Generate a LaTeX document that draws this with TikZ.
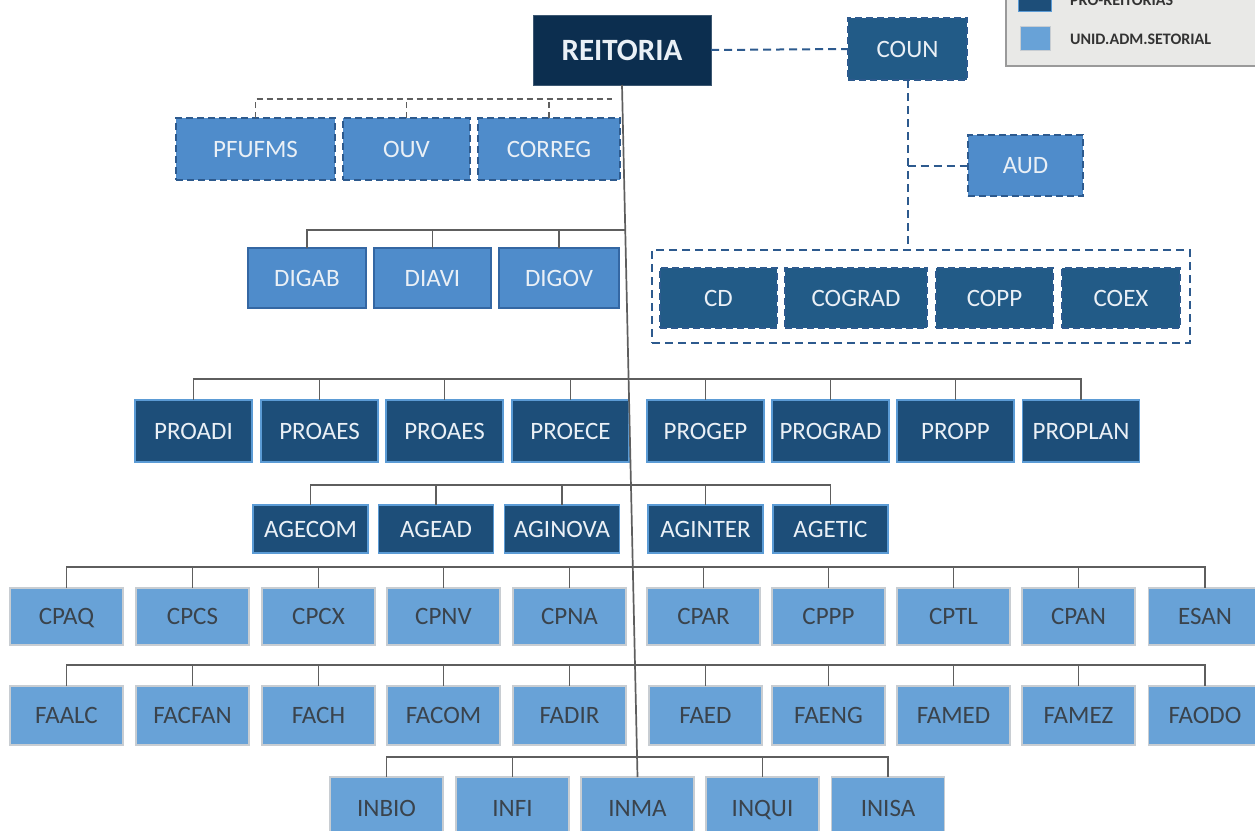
\documentclass[tikz,border=0pt]{standalone}
\usepackage{fontspec}
\setmainfont{Carlito}
\usetikzlibrary{calc}
\definecolor{reitc}{HTML}{0C2E4F}
\definecolor{midc}{HTML}{225B87}
\definecolor{proc}{HTML}{1D4E79}
\definecolor{probord}{HTML}{5B9BD5}
\definecolor{bluetwo}{HTML}{4F8CCB}
\definecolor{dashc}{HTML}{2D5A8E}
\definecolor{digbord}{HTML}{3467A3}
\definecolor{cpc}{HTML}{68A2D7}
\definecolor{cpbord}{HTML}{C8CDD2}
\definecolor{txtlight}{HTML}{EAF0F6}
\definecolor{txtdark}{HTML}{3A434C}
\definecolor{lineg}{HTML}{5E5E5E}
\definecolor{legbg}{HTML}{E9E9E7}
\definecolor{legbord}{HTML}{9A9A9A}
\newcommand\labfont{\fontsize{25}{30}\selectfont}
\tikzset{
  box/.style={rectangle, inner sep=0pt, outer sep=0pt, font=\labfont, text=txtlight, text height=16pt, text depth=0pt},
  reitbox/.style={box, fill=reitc, draw=reitc!80!white, line width=1pt, font=\fontsize{31}{36}\selectfont\bfseries, text height=20pt},
  counbox/.style={box, fill=midc, draw=dashc, line width=2.5pt, dash pattern=on 7pt off 4pt},
  ltdash/.style={box, fill=bluetwo, draw=dashc, line width=2.5pt, dash pattern=on 7pt off 4pt},
  digbox/.style={box, fill=bluetwo, draw=digbord, line width=1.8pt},
  probox/.style={box, fill=proc, draw=probord, line width=1.5pt},
  cpbox/.style={box, fill=cpc, draw=cpbord, line width=1.2pt, text=txtdark, minimum width=113pt},
  conn/.style={draw=lineg, line width=1.7pt},
  gdash/.style={draw=lineg, line width=1.5pt, dash pattern=on 6pt off 4pt},
  bdash/.style={draw=dashc, line width=2pt, dash pattern=on 8pt off 5pt},
  leglab/.style={anchor=west, inner sep=0pt, font=\fontsize{16}{18}\selectfont\bfseries, text=black!80, text height=10.5pt, text depth=0pt},
}
\begin{document}
\begin{tikzpicture}[x=1pt, y=-1pt]
\useasboundingbox (0,0) rectangle (1255,830);
% legend
\node[draw=legbord, fill=legbg, line width=1.5pt, minimum width=270pt, minimum height=96pt, inner sep=0pt, outer sep=0pt] (legend) at (1141,18) {};
\node[fill=proc, draw=probord, line width=1pt, minimum width=33pt, minimum height=24pt, inner sep=0pt] (legdark) at (1035,-1) {};
\node[fill=cpc, draw=cpbord, line width=1pt, minimum width=30pt, minimum height=24pt, inner sep=0pt] (leglight) at (1035,38) {};
\node[leglab] (legt1) at (1070,0) {PRO-REITORIAS};
\node[leglab] (legt2) at (1070,39) {UNID.ADM.SETORIAL};

% top
\node[reitbox, minimum width=178pt, minimum height=70pt] (reit) at (622,50) {REITORIA};
\node[counbox, minimum width=119pt, minimum height=62pt] (coun) at (907.5,49) {COUN};
\node[ltdash, minimum width=115pt, minimum height=61pt] (aud) at (1025.5,165.5) {AUD};
\node[rectangle, draw=dashc, line width=2pt, dash pattern=on 8pt off 5pt, minimum width=538pt, minimum height=93pt, inner sep=0pt, outer sep=0pt] (grp) at (921,296.5) {};
\node[counbox, minimum width=117pt, minimum height=60pt] (cd) at (718.5,298) {CD};
\node[counbox, minimum width=142pt, minimum height=60pt] (cograd) at (856,298) {COGRAD};
\node[counbox, minimum width=117pt, minimum height=60pt] (copp) at (994.5,298) {COPP};
\node[counbox, minimum width=118pt, minimum height=60pt] (coex) at (1121,298) {COEX};

\draw[bdash] (reit.east) -- (coun.west);
\draw[bdash] (coun.south) -- (coun.south |- grp.north);
\draw[bdash] (coun.south |- aud.west) -- (aud.west);

% PFUFMS row
\node[ltdash, minimum width=159pt, minimum height=62pt] (pfu) at (255.5,149) {PFUFMS};
\node[ltdash, minimum width=127pt, minimum height=62pt] (ouv) at (406.5,149) {OUV};
\node[ltdash, minimum width=142pt, minimum height=62pt] (correg) at (549,149) {CORREG};

% DIG row
\node[digbox, minimum width=118pt, minimum height=60pt] (digab) at (307,278) {DIGAB};
\node[digbox, minimum width=117pt, minimum height=60pt] (diavi) at (432.5,278) {DIAVI};
\node[digbox, minimum width=120pt, minimum height=60pt] (digov) at (559,278) {DIGOV};

% PRO row
\foreach \n/\x/\t in {proadi/193.5/PROADI, proaesa/319.5/PROAES, proaesb/444.5/PROAES, proece/570.5/PROECE, progep/705.5/PROGEP, prograd/830.5/PROGRAD, propp/955.5/PROPP, proplan/1081/PROPLAN}
  \node[probox, minimum width=117pt, minimum height=62pt] (\n) at (\x,431) {\t};

% AGE row
\foreach \n/\x/\t in {agecom/310.5/AGECOM, agead/436/AGEAD, aginova/562/AGINOVA, aginter/705.5/AGINTER, agetic/830.5/AGETIC}
  \node[probox, minimum width=115pt, minimum height=48pt] (\n) at (\x,529) {\t};

% CP row
\foreach \n/\x/\t in {cpaq/66.5/CPAQ, cpcs/192.5/CPCS, cpcx/318.5/CPCX, cpnv/443.5/CPNV, cpna/569.5/CPNA, cpar/703.5/CPAR, cppp/828.5/CPPP, cptl/953.5/CPTL, cpan/1078.5/CPAN, esan/1205/ESAN}
  \node[cpbox, minimum height=57pt] (\n) at (\x,616.5) {\t};

% FA row
\foreach \n/\x/\t in {faalc/66.5/FAALC, facfan/192.5/FACFAN, fach/318.5/FACH, facom/443.5/FACOM, fadir/569.5/FADIR, faed/705.5/FAED, faeng/828.5/FAENG, famed/953.5/FAMED, famez/1078.5/FAMEZ, faodo/1205/FAODO}
  \node[cpbox, minimum height=59pt] (\n) at (\x,715.5) {\t};

% IN row
\foreach \n/\x/\t in {inbio/386.5/INBIO, infi/512.5/INFI, inma/637.5/INMA, inqui/762.5/INQUI, inisa/888/INISA}
  \node[cpbox, minimum height=62pt] (\n) at (\x,808) {\t};

% spine
\draw[conn] (reit.south) -- (inma.north);

% PFUFMS dashed connector
\coordinate (py) at (612,99);
\draw[gdash] (pfu.north) |- (py);
\draw[gdash] (ouv.north) -- (ouv.north |- py);
\draw[gdash] (correg.north) -- (correg.north |- py);

% DIG connector
\coordinate (dy) at ($(reit.south)!0.2095!(inma.north)$);
\draw[conn] (digab.north) |- (dy);
\draw[conn] (diavi.north) -- (diavi.north |- dy);
\draw[conn] (digov.north) -- (digov.north |- dy);

% PRO connector
\coordinate (ry) at (0,379);
\draw[conn] (proadi.north) |- (proplan.north |- ry) -- (proplan.north);
\foreach \n in {proaesa, proaesb, proece, progep, prograd, propp}
  \draw[conn] (\n.north) -- (\n.north |- ry);

% AGE connector
\coordinate (ay) at (0,485);
\draw[conn] (agecom.north) |- (agetic.north |- ay) -- (agetic.north);
\foreach \n in {agead, aginova, aginter}
  \draw[conn] (\n.north) -- (\n.north |- ay);

% CP connector
\coordinate (cy) at (0,567);
\draw[conn] (cpaq.north) |- (esan.north |- cy) -- (esan.north);
\foreach \n in {cpcs, cpcx, cpnv, cpna, cpar, cppp, cptl, cpan}
  \draw[conn] (\n.north) -- (\n.north |- cy);

% FA connector
\coordinate (fy) at (0,665);
\draw[conn] (faalc.north) |- (faodo.north |- fy) -- (faodo.north);
\foreach \n in {facfan, fach, facom, fadir, faed, faeng, famed, famez}
  \draw[conn] (\n.north) -- (\n.north |- fy);

% IN connector
\coordinate (iy) at (0,757);
\draw[conn] (inbio.north) |- (inisa.north |- iy) -- (inisa.north);
\foreach \n in {infi, inqui}
  \draw[conn] (\n.north) -- (\n.north |- iy);
\end{tikzpicture}
\end{document}
